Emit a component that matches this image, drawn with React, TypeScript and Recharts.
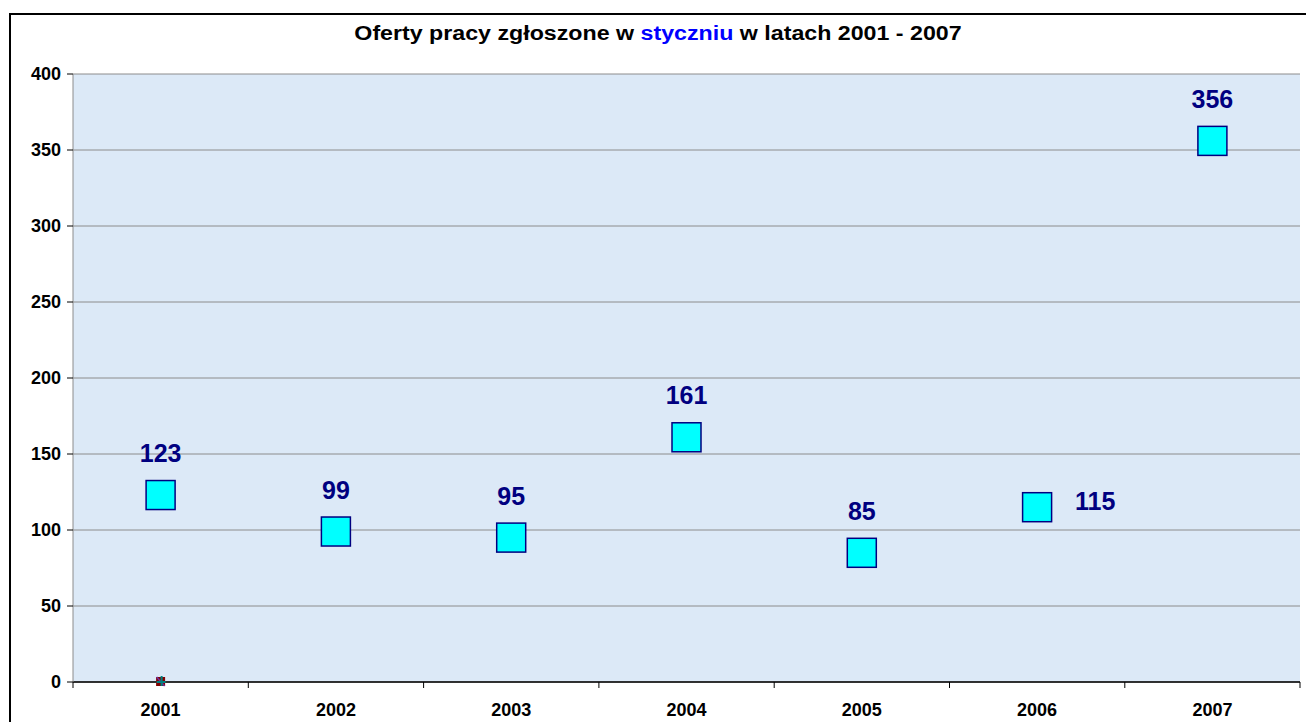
import { ComposedChart, Scatter, XAxis, YAxis, CartesianGrid } from 'recharts'

const years = ['2001', '2002', '2003', '2004', '2005', '2006', '2007']
const offers = [123, 99, 95, 161, 85, 115, 356]
const yTicks = [0, 50, 100, 150, 200, 250, 300, 350, 400]
// second (empty) series that Excel left sitting at zero
const strayYears = ['2001']
const strayValues = [0]
// labels drawn to the right of the marker instead of above
const sideLabelYears = ['2006']

const data = years.map((year, i) => ({ year, offers: offers[i] }))
const strayData = strayYears.map((year, i) => ({ year, offers: strayValues[i] }))

const font = '"Liberation Sans", Arial, sans-serif'
// half of one category slot, so points sit in the middle of each slot like Excel
const halfSlot = 87.6

const SquareDot = (props: any) => {
  const { cx, cy, payload } = props
  if (cx == null || cy == null) return null
  const side = sideLabelYears.includes(payload.year)
  return (
    <g>
      <rect x={cx - 14.5} y={cy - 14.5} width={29} height={29} fill="#00ffff" stroke="#000080" strokeWidth={1.5} />
      <text
        x={side ? cx + 38 : cx}
        y={side ? cy + 3 : cy - 33}
        textAnchor={side ? 'start' : 'middle'}
        fill="#000080"
        fontSize={25}
        fontWeight="bold"
        fontFamily={font}
      >
        {payload.offers}
      </text>
    </g>
  )
}

const StrayDot = (props: any) => {
  const { cx, cy } = props
  if (cx == null || cy == null) return null
  return (
    <g>
      <rect x={cx - 4.5} y={cy - 5} width={9} height={9} fill="#800000" />
      <line x1={cx - 4} y1={cy - 5} x2={cx + 4} y2={cy + 4} stroke="#7030a0" strokeWidth={1.5} />
      <line x1={cx + 1} y1={cy - 6} x2={cx + 1} y2={cy + 4} stroke="#008080" strokeWidth={2} />
      <line x1={cx - 4} y1={cy} x2={cx + 5} y2={cy} stroke="#008080" strokeWidth={2} />
    </g>
  )
}

const YearTick = (props: any) => {
  const { x, y, payload, index, visibleTicksCount } = props
  const axisY = y - 20
  return (
    <g>
      <line x1={x - halfSlot} y1={axisY} x2={x - halfSlot} y2={axisY + 6} stroke="#000" />
      {index === visibleTicksCount - 1 && (
        <line x1={x + halfSlot} y1={axisY} x2={x + halfSlot} y2={axisY + 6} stroke="#000" />
      )}
      <text x={x} y={y + 14} textAnchor="middle" fill="#000" fontSize={18} fontWeight="bold" fontFamily={font}>
        {payload.value}
      </text>
    </g>
  )
}

export default function App() {
  return (
    <div style={{ position: 'fixed', left: 0, top: 0, width: 1306, height: 722, overflow: 'hidden', background: '#fff' }}>
      <div
        style={{
          position: 'absolute',
          left: 9,
          top: 13,
          width: 1400,
          height: 800,
          borderLeft: '2px solid #000',
          borderTop: '2px solid #000',
        }}
      />
      <div
        style={{
          position: 'absolute',
          left: 10,
          width: 1296,
          top: 22,
          textAlign: 'center',
          fontFamily: font,
          fontWeight: 'bold',
          fontSize: 20,
          color: '#000',
          whiteSpace: 'nowrap',
          transform: 'scaleX(1.16)',
          transformOrigin: '648px 0',
        }}
      >
        Oferty pracy zgłoszone w <span style={{ color: '#0000ff' }}>styczniu</span> w latach 2001 - 2007
      </div>
      <div style={{ position: 'absolute', left: 0, top: 0 }}>
        <ComposedChart width={1306} height={722} data={data} margin={{ top: 74, right: 6, bottom: 0, left: 13 }}>
          <CartesianGrid vertical={false} stroke="#8c8c8c" fill="#dce9f7" fillOpacity={1} />
          <XAxis
            dataKey="year"
            type="category"
            allowDuplicatedCategory={false}
            height={40}
            padding={{ left: halfSlot, right: halfSlot }}
            axisLine={{ stroke: '#000', strokeWidth: 1.5 }}
            tickLine={{ stroke: 'none' }}
            tickSize={6}
            tickMargin={14}
            tick={<YearTick />}
            interval={0}
          />
          <YAxis
            type="number"
            domain={[0, 400]}
            ticks={yTicks}
            width={60}
            axisLine={{ stroke: '#8c8c8c' }}
            tickLine={{ stroke: '#000' }}
            tickSize={6}
            tickMargin={6}
            tick={{ fill: '#000', fontSize: 18, fontWeight: 'bold', fontFamily: font }}
            interval={0}
          />
          <Scatter data={data} dataKey="offers" shape={<SquareDot />} isAnimationActive={false} />
          <Scatter data={strayData} dataKey="offers" shape={<StrayDot />} isAnimationActive={false} />
        </ComposedChart>
      </div>
    </div>
  )
}
